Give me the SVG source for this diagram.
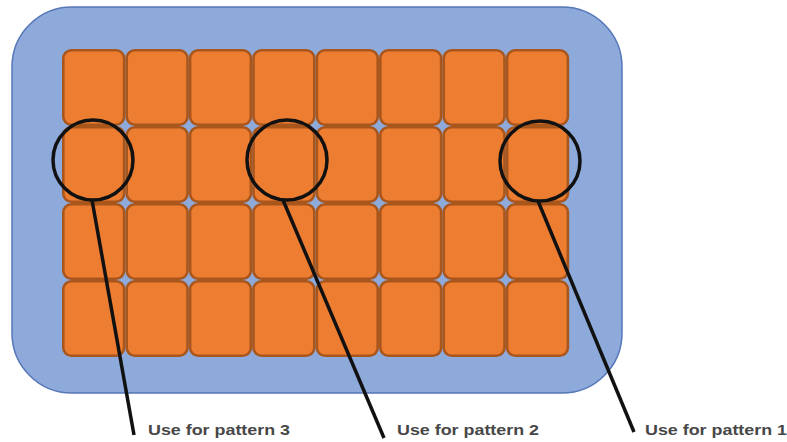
<svg xmlns="http://www.w3.org/2000/svg" width="787" height="442" viewBox="0 0 787 442">
<style>
.tile{fill:#ed7d31;stroke:#a9561c;stroke-width:2.6}
.ring{fill:none;stroke:#111;stroke-width:3.5}
.lead{stroke:#111;stroke-width:3.5;fill:none}
.lbl{font-family:"Liberation Sans",Arial,sans-serif;font-size:15px;font-weight:bold;fill:#474747}
</style>
<rect width="787" height="442" fill="#fff"/>
<g id="board">
<rect x="12" y="7" width="610" height="386" rx="60" ry="60" fill="#8eaadb" stroke="#5576b8" stroke-width="1.5"/>
</g>
<g id="tiles">
<rect class="tile" x="63.3" y="50.3" width="60.8" height="74.4" rx="8"/>
<rect class="tile" x="126.7" y="50.3" width="60.8" height="74.4" rx="8"/>
<rect class="tile" x="190.1" y="50.3" width="60.8" height="74.4" rx="8"/>
<rect class="tile" x="253.5" y="50.3" width="60.8" height="74.4" rx="8"/>
<rect class="tile" x="316.9" y="50.3" width="60.8" height="74.4" rx="8"/>
<rect class="tile" x="380.3" y="50.3" width="60.8" height="74.4" rx="8"/>
<rect class="tile" x="443.7" y="50.3" width="60.8" height="74.4" rx="8"/>
<rect class="tile" x="507.1" y="50.3" width="60.8" height="74.4" rx="8"/>
<rect class="tile" x="63.3" y="127.3" width="60.8" height="74.4" rx="8"/>
<rect class="tile" x="126.7" y="127.3" width="60.8" height="74.4" rx="8"/>
<rect class="tile" x="190.1" y="127.3" width="60.8" height="74.4" rx="8"/>
<rect class="tile" x="253.5" y="127.3" width="60.8" height="74.4" rx="8"/>
<rect class="tile" x="316.9" y="127.3" width="60.8" height="74.4" rx="8"/>
<rect class="tile" x="380.3" y="127.3" width="60.8" height="74.4" rx="8"/>
<rect class="tile" x="443.7" y="127.3" width="60.8" height="74.4" rx="8"/>
<rect class="tile" x="507.1" y="127.3" width="60.8" height="74.4" rx="8"/>
<rect class="tile" x="63.3" y="204.3" width="60.8" height="74.4" rx="8"/>
<rect class="tile" x="126.7" y="204.3" width="60.8" height="74.4" rx="8"/>
<rect class="tile" x="190.1" y="204.3" width="60.8" height="74.4" rx="8"/>
<rect class="tile" x="253.5" y="204.3" width="60.8" height="74.4" rx="8"/>
<rect class="tile" x="316.9" y="204.3" width="60.8" height="74.4" rx="8"/>
<rect class="tile" x="380.3" y="204.3" width="60.8" height="74.4" rx="8"/>
<rect class="tile" x="443.7" y="204.3" width="60.8" height="74.4" rx="8"/>
<rect class="tile" x="507.1" y="204.3" width="60.8" height="74.4" rx="8"/>
<rect class="tile" x="63.3" y="281.3" width="60.8" height="74.4" rx="8"/>
<rect class="tile" x="126.7" y="281.3" width="60.8" height="74.4" rx="8"/>
<rect class="tile" x="190.1" y="281.3" width="60.8" height="74.4" rx="8"/>
<rect class="tile" x="253.5" y="281.3" width="60.8" height="74.4" rx="8"/>
<rect class="tile" x="316.9" y="281.3" width="60.8" height="74.4" rx="8"/>
<rect class="tile" x="380.3" y="281.3" width="60.8" height="74.4" rx="8"/>
<rect class="tile" x="443.7" y="281.3" width="60.8" height="74.4" rx="8"/>
<rect class="tile" x="507.1" y="281.3" width="60.8" height="74.4" rx="8"/>
</g>
<g id="callout3">
<circle class="ring" cx="93" cy="160" r="40"/>
<text class="lbl" x="148" y="435" textLength="142" lengthAdjust="spacingAndGlyphs">Use for pattern 3</text>
</g>
<g id="callout2">
<circle class="ring" cx="287" cy="160" r="40"/>
<text class="lbl" x="397" y="435" textLength="142" lengthAdjust="spacingAndGlyphs">Use for pattern 2</text>
</g>
<g id="callout1">
<circle class="ring" cx="540" cy="161" r="40"/>
<text class="lbl" x="645" y="435" textLength="142" lengthAdjust="spacingAndGlyphs">Use for pattern 1</text>
</g>
<g id="connectors">
<line class="lead" x1="92" y1="200" x2="134" y2="435"/>
<line class="lead" x1="283" y1="200" x2="384" y2="438"/>
<line class="lead" x1="538" y1="201" x2="634" y2="432"/>
</g>
</svg>
